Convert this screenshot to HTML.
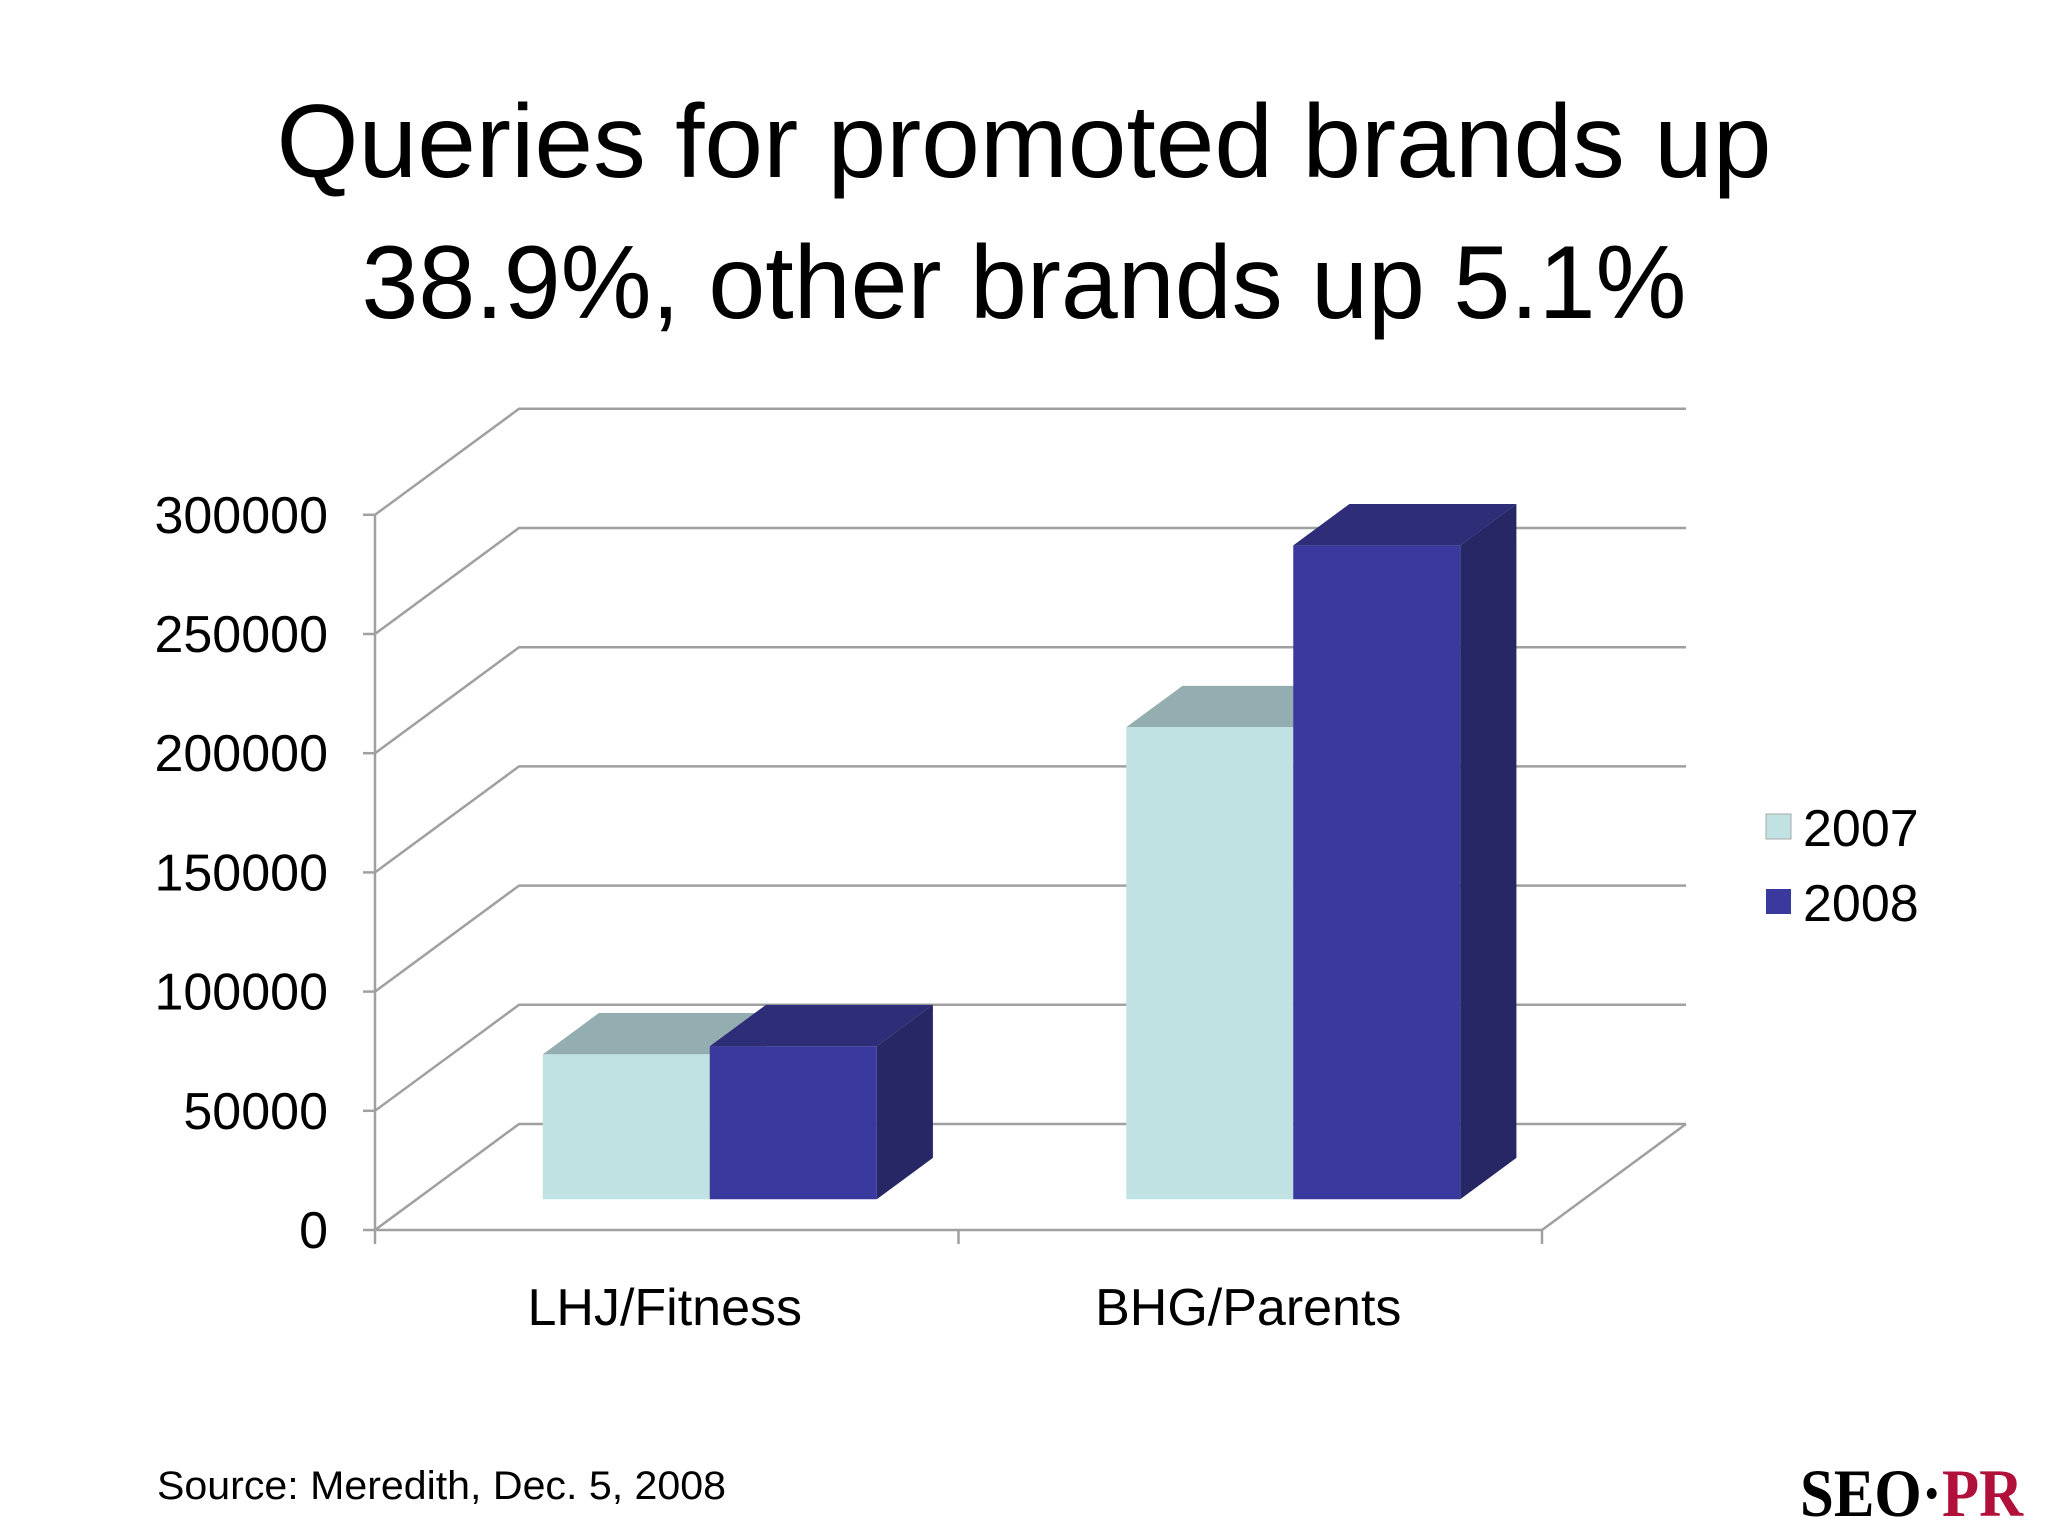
<!DOCTYPE html>
<html><head><meta charset="utf-8"><style>
html,body{margin:0;padding:0;background:#fff;}
svg{display:block;}
</style></head><body>
<svg id="chart" width="2048" height="1536" viewBox="0 0 2048 1536" xmlns="http://www.w3.org/2000/svg" font-family="Liberation Sans, Arial, sans-serif">
<text x="1024" y="177" text-anchor="middle" font-size="104" textLength="1495" lengthAdjust="spacingAndGlyphs" fill="#000">Queries for promoted brands up</text>
<text x="1024" y="318" text-anchor="middle" font-size="104" textLength="1325" lengthAdjust="spacingAndGlyphs" fill="#000">38.9%, other brands up 5.1%</text>
<g id="plot"></g>
<g>
<rect x="1766" y="814" width="25" height="25" fill="#c0e2e2" stroke="#aaa" stroke-width="1"/>
<text x="1803" y="846" font-size="52" fill="#000">2007</text>
<rect x="1766" y="889" width="25" height="25" fill="#3a3a9e"/>
<text x="1803" y="921" font-size="52" fill="#000">2008</text>
</g>
<text x="157" y="1499" font-size="40" textLength="569" lengthAdjust="spacingAndGlyphs" fill="#000">Source: Meredith, Dec. 5, 2008</text>
<text x="1800" y="1516" font-family="Liberation Serif, serif" font-weight="bold" font-size="68" textLength="223" lengthAdjust="spacingAndGlyphs" fill="#000">SEO·<tspan fill="#b0103a">PR</tspan></text>
</svg>
<script>
const categories = ["LHJ/Fitness", "BHG/Parents"];
const series2007 = [60800, 198000];
const series2008 = [64200, 274300];
const yTicks = [0, 50000, 100000, 150000, 200000, 250000, 300000];

const NS = "http://www.w3.org/2000/svg";
const g = document.getElementById("plot");
const X0 = 375, Y0 = 1230, PX = 119.2 / 50000;
const DX = 144, DY = -106, RIGHT = 1542;
const CATW = (RIGHT - X0) / categories.length;
const BARW = 167;
function yv(v, d) { return Y0 - v * PX + d * DY; }
function xv(i, d) { return X0 + i * CATW + d * DX; }
function mk(tag, attrs) {
  const e = document.createElementNS(NS, tag);
  for (const k in attrs) e.setAttribute(k, attrs[k]);
  g.appendChild(e); return e;
}
yTicks.forEach(function (t) {
  const y = yv(t, 0);
  const l = mk("polyline", {points: (X0) + "," + y + " " + (X0 + DX) + "," + (y + DY) + " " + (RIGHT + DX) + "," + (y + DY), fill: "none", stroke: "#a0a0a0", "stroke-width": 2.5});
  
  
  const tk = mk("line", {x1: X0 - 12, y1: y, x2: X0, y2: y, stroke: "#a0a0a0", "stroke-width": 2.5});
  
  
  const tx = mk("text", {x: 328, y: y + 18, "text-anchor": "end", "font-size": 52, fill: "#000"});
  tx.textContent = String(t);
  
  
});
const fr = mk("line", {x1: RIGHT, y1: Y0, x2: RIGHT + DX, y2: Y0 + DY, stroke: "#a0a0a0", "stroke-width": 2.5});


const ya = mk("line", {x1: X0, y1: yv(300000, 0), x2: X0, y2: Y0, stroke: "#a0a0a0", "stroke-width": 2.5});


const xa = mk("line", {x1: X0, y1: Y0, x2: RIGHT, y2: Y0, stroke: "#a0a0a0", "stroke-width": 2.5});


for (let i = 0; i <= categories.length; i++) {
  const t = mk("line", {x1: X0 + i * CATW, y1: Y0, x2: X0 + i * CATW, y2: Y0 + 14, stroke: "#a0a0a0", "stroke-width": 2.5});
  
  
}
categories.forEach(function (c, i) {
  const t = mk("text", {x: X0 + (i + 0.5) * CATW - 2, y: 1325, "text-anchor": "middle", "font-size": 52, fill: "#000"});
  t.textContent = c;
  
  
});
const D1 = 0.29, D2 = 0.68;
function bar(i, s, v, front, top, side, name) {
  const x1 = xv(i, D1) + 126 + s * BARW, x2 = x1 + BARW;
  const yb = yv(0, D1), yt = yv(v, D1);
  const ox = (D2 - D1) * DX, oy = (D2 - D1) * DY;
  const t = mk("polygon", {points: x1 + "," + yt + " " + (x1 + ox) + "," + (yt + oy) + " " + (x2 + ox) + "," + (yt + oy) + " " + x2 + "," + yt, fill: top});
  
  
  const sd = mk("polygon", {points: x2 + "," + yt + " " + (x2 + ox) + "," + (yt + oy) + " " + (x2 + ox) + "," + (yb + oy) + " " + x2 + "," + yb, fill: side});
  
  
  const f = mk("rect", {x: x1, y: yt, width: BARW, height: yb - yt, fill: front});
  
  
}
categories.forEach(function (c, i) {
  bar(i, 0, series2007[i], "#c0e2e2", "#94adb0", "#8aa5a8", "bar-2007-" + i);
  bar(i, 1, series2008[i], "#3a3a9e", "#2e2e78", "#272766", "bar-2008-" + i);
});
</script>
</body></html>
